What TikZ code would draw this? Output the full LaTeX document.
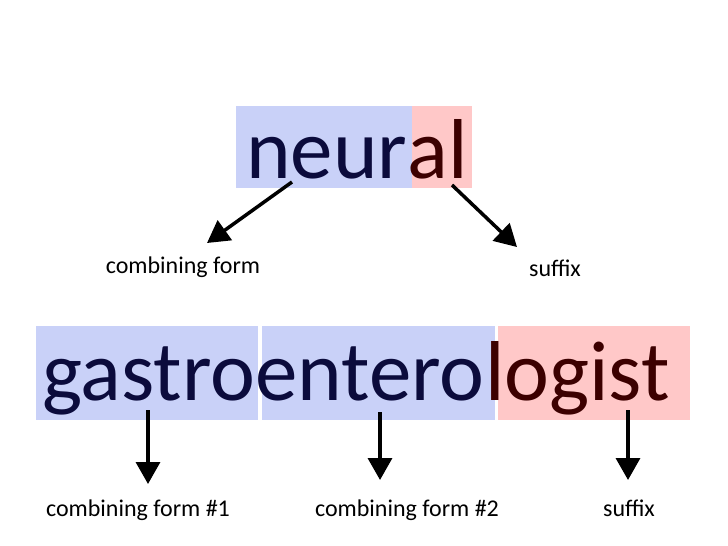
\documentclass[tikz,border=0pt]{standalone}
\usepackage{fontspec}
\setmainfont{Carlito}
\usetikzlibrary{arrows.meta}
\definecolor{bbox}{HTML}{C9D1F8}
\definecolor{rbox}{HTML}{FFC8C8}
\definecolor{btext}{HTML}{0B0B3C}
\definecolor{rtext}{HTML}{3C0000}
\begin{document}
\begin{tikzpicture}[x=1pt,y=-1pt,
  box/.style={inner sep=0,outer sep=0,draw=none},
  big/.style={font=\fontsize{85}{90}\selectfont,inner sep=0,anchor=base west},
  lab/.style={font=\fontsize{24}{28}\selectfont,inner sep=0,anchor=base},
  arr/.style={line width=3.5pt,-{Triangle[length=22pt,width=24pt]}}]
\useasboundingbox (0,0) rectangle (728,546);
% top
\fill[bbox] (236,106) rectangle (412,188);
\fill[rbox] (412,106) rectangle (472,188);
\node[big,text=btext] (neur) at (246,178) {neur};
\node[big,text=rtext] (al) at (neur.base east) {al};
\node[lab] (cf) at (183,273) {combining form};
\node[lab] (sf) at (555,276) {suffix};
\coordinate (a1) at (292,182); \coordinate (b1) at (207,243);
\coordinate (a2) at (452,185); \coordinate (b2) at (517,247);
\draw[arr] (a1) -- (b1);
\draw[arr] (a2) -- (b2);
% bottom
\fill[bbox] (36,326) rectangle (258,420);
\fill[bbox] (262,326) rectangle (495,420);
\fill[rbox] (498,326) rectangle (690,420);
\node[big,text=btext] (g) at (42,400) {gastro};
\node[big,text=btext] (e) at (g.base east) {entero};
\node[big,text=rtext] (l) at (e.base east) {logist};
\node[lab] (c1) at (138,516) {combining form \#1};
\node[lab] (c2) at (407,516) {combining form \#2};
\node[lab] (s2) at (629,516) {suffix};
\coordinate (p1) at (148,410); \coordinate (q1) at (148,484);
\coordinate (p2) at (380,412); \coordinate (q2) at (380,480);
\coordinate (p3) at (628,410); \coordinate (q3) at (628,480);
\draw[arr] (p1) -- (q1);
\draw[arr] (p2) -- (q2);
\draw[arr] (p3) -- (q3);
\end{tikzpicture}
\end{document}
